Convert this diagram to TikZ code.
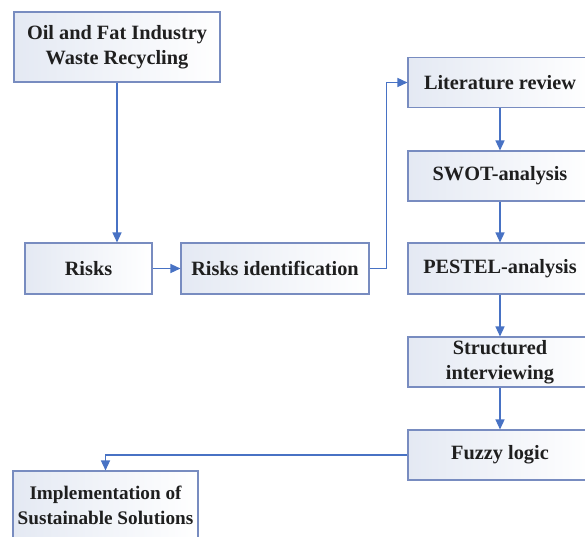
\documentclass[tikz,border=0pt]{standalone}
\usepackage{fontspec}
\setmainfont{Liberation Serif}
\usetikzlibrary{arrows.meta}
\definecolor{boxline}{RGB}{120,140,192}
\definecolor{boxfill}{RGB}{228,233,243}
\definecolor{arrowc}{RGB}{72,114,196}
\tikzset{
  flowbox/.style={draw=boxline, line width=1.1pt, left color=boxfill, right color=white,
    align=center, inner sep=0pt, font=\fontsize{20.3}{24.5}\selectfont\bfseries, text=black!88},
  flowarrow/.style={draw=arrowc, line width=1.4pt, -{Triangle[length=10pt,width=9pt]}},
  flowline/.style={draw=arrowc, line width=1.4pt}
}
\begin{document}
\begin{tikzpicture}[x=1pt,y=-1pt]
\useasboundingbox (0,0) rectangle (585,536);
\fill[white] (0,0) rectangle (585,536);
\clip (0,0) rectangle (585,536);
\node[flowbox, minimum width=206pt, minimum height=70pt] (oil) at (117,47) {Oil and Fat Industry\\Waste Recycling};
\node[flowbox, minimum width=127pt, minimum height=51pt] (risks) at (88.5,268.5) {Risks};
\node[flowbox, minimum width=188pt, minimum height=51pt] (riskid) at (275,268.5) {Risks identification};
\node[flowbox, minimum width=184pt, minimum height=50pt] (lit) at (500,82.5) {Literature review};
\node[flowbox, minimum width=184pt, minimum height=50pt] (swot) at (500,176) {SWOT-analysis};
\node[flowbox, minimum width=184pt, minimum height=51pt] (pestel) at (500,268.5) {PESTEL-analysis};
\node[flowbox, minimum width=184pt, minimum height=50pt] (struct) at (500,362) {Structured\\interviewing};
\node[flowbox, minimum width=184pt, minimum height=50pt] (fuzzy) at (500,455) {Fuzzy logic};
\node[flowbox, minimum width=185pt, minimum height=69pt, font=\fontsize{19.2}{24.5}\selectfont\bfseries] (impl) at (105.5,505.5) {Implementation of\\Sustainable Solutions};
\draw[flowarrow] (oil.south) -- (oil.south |- risks.north);
\draw[flowarrow] (risks.east) -- (riskid.west);
\draw[flowarrow] (riskid.east) -- ++(17,0) |- (lit.west);
\draw[flowarrow] (lit.south) -- (swot.north);
\draw[flowarrow] (swot.south) -- (pestel.north);
\draw[flowarrow] (pestel.south) -- (struct.north);
\draw[flowarrow] (struct.south) -- (fuzzy.north);
\draw[flowarrow] (fuzzy.west) -| (impl.north);
\end{tikzpicture}
\end{document}
